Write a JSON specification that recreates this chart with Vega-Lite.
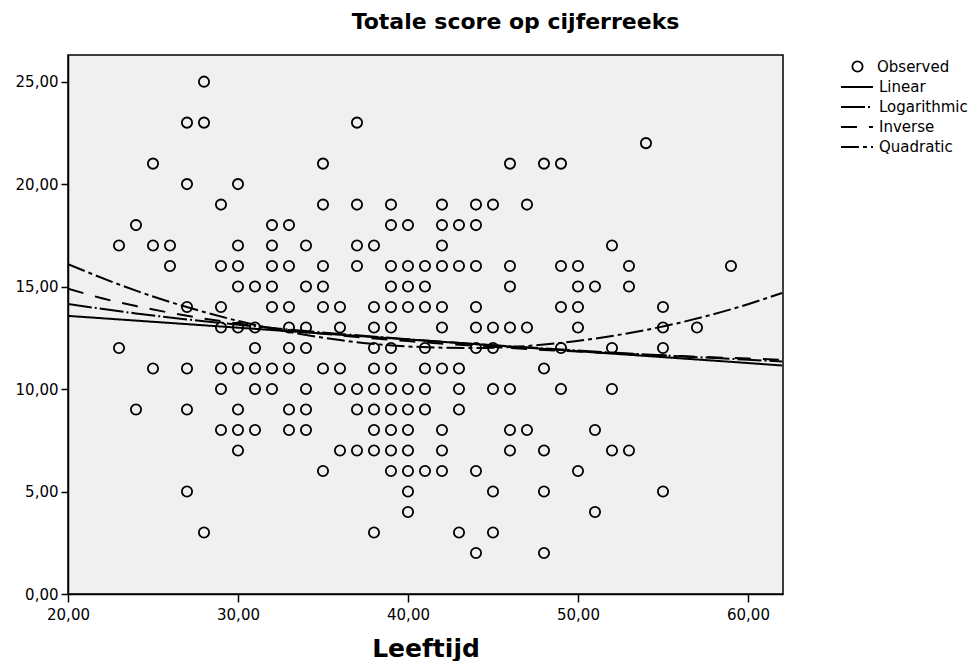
{
  "$schema": "https://vega.github.io/schema/vega-lite/v6.json",
  "width": 715,
  "height": 539,
  "autosize": {"type": "none"},
  "padding": {"left": 68, "top": 55, "right": 189, "bottom": 67},
  "background": "white",
  "title": {"text": "Totale score op cijferreeks", "font": "DejaVu Sans", "fontSize": 22, "fontWeight": "bold", "color": "black", "anchor": "middle", "dx": 90, "offset": 21},
  "config": {
    "view": {"fill": "#F0F0F0", "stroke": "black", "strokeWidth": 1.5},
    "axis": {"grid": false, "domainColor": "black", "domainWidth": 1.5, "tickColor": "black", "tickWidth": 1.5, "labelColor": "black", "labelFont": "DejaVu Sans", "labelFontSize": 15, "labelFlush": false, "labelOverlap": false}
  },
  "datasets": {
    "obs": [
      {"age":23,"score":17},{"age":23,"score":12},
      {"age":24,"score":18},{"age":24,"score":9},
      {"age":25,"score":21},{"age":25,"score":17},{"age":25,"score":11},
      {"age":26,"score":17},{"age":26,"score":16},
      {"age":27,"score":23},{"age":27,"score":20},{"age":27,"score":14},{"age":27,"score":11},{"age":27,"score":9},{"age":27,"score":5},
      {"age":28,"score":25},{"age":28,"score":23},{"age":28,"score":3},
      {"age":29,"score":19},{"age":29,"score":16},{"age":29,"score":14},{"age":29,"score":13},{"age":29,"score":11},{"age":29,"score":10},{"age":29,"score":8},
      {"age":30,"score":20},{"age":30,"score":17},{"age":30,"score":16},{"age":30,"score":15},{"age":30,"score":13},{"age":30,"score":11},{"age":30,"score":9},{"age":30,"score":8},{"age":30,"score":7},
      {"age":31,"score":15},{"age":31,"score":13},{"age":31,"score":12},{"age":31,"score":11},{"age":31,"score":10},{"age":31,"score":8},
      {"age":32,"score":18},{"age":32,"score":17},{"age":32,"score":16},{"age":32,"score":15},{"age":32,"score":14},{"age":32,"score":11},{"age":32,"score":10},
      {"age":33,"score":18},{"age":33,"score":16},{"age":33,"score":14},{"age":33,"score":13},{"age":33,"score":12},{"age":33,"score":11},{"age":33,"score":9},{"age":33,"score":8},
      {"age":34,"score":17},{"age":34,"score":15},{"age":34,"score":13},{"age":34,"score":12},{"age":34,"score":10},{"age":34,"score":9},{"age":34,"score":8},
      {"age":35,"score":21},{"age":35,"score":19},{"age":35,"score":16},{"age":35,"score":15},{"age":35,"score":14},{"age":35,"score":11},{"age":35,"score":6},
      {"age":36,"score":14},{"age":36,"score":13},{"age":36,"score":11},{"age":36,"score":10},{"age":36,"score":7},
      {"age":37,"score":23},{"age":37,"score":19},{"age":37,"score":17},{"age":37,"score":16},{"age":37,"score":10},{"age":37,"score":9},{"age":37,"score":7},
      {"age":38,"score":17},{"age":38,"score":14},{"age":38,"score":13},{"age":38,"score":12},{"age":38,"score":11},{"age":38,"score":10},{"age":38,"score":9},{"age":38,"score":8},{"age":38,"score":7},{"age":38,"score":3},
      {"age":39,"score":19},{"age":39,"score":18},{"age":39,"score":16},{"age":39,"score":15},{"age":39,"score":14},{"age":39,"score":13},{"age":39,"score":12},{"age":39,"score":11},{"age":39,"score":10},{"age":39,"score":9},{"age":39,"score":8},{"age":39,"score":7},{"age":39,"score":6},
      {"age":40,"score":18},{"age":40,"score":16},{"age":40,"score":15},{"age":40,"score":14},{"age":40,"score":10},{"age":40,"score":9},{"age":40,"score":8},{"age":40,"score":7},{"age":40,"score":6},{"age":40,"score":5},{"age":40,"score":4},
      {"age":41,"score":16},{"age":41,"score":15},{"age":41,"score":14},{"age":41,"score":12},{"age":41,"score":11},{"age":41,"score":10},{"age":41,"score":9},{"age":41,"score":6},
      {"age":42,"score":19},{"age":42,"score":18},{"age":42,"score":17},{"age":42,"score":16},{"age":42,"score":14},{"age":42,"score":13},{"age":42,"score":11},{"age":42,"score":8},{"age":42,"score":7},{"age":42,"score":6},
      {"age":43,"score":18},{"age":43,"score":16},{"age":43,"score":11},{"age":43,"score":10},{"age":43,"score":9},{"age":43,"score":3},
      {"age":44,"score":19},{"age":44,"score":18},{"age":44,"score":16},{"age":44,"score":14},{"age":44,"score":13},{"age":44,"score":12},{"age":44,"score":6},{"age":44,"score":2},
      {"age":45,"score":19},{"age":45,"score":13},{"age":45,"score":12},{"age":45,"score":10},{"age":45,"score":5},{"age":45,"score":3},
      {"age":46,"score":21},{"age":46,"score":16},{"age":46,"score":15},{"age":46,"score":13},{"age":46,"score":10},{"age":46,"score":8},{"age":46,"score":7},
      {"age":47,"score":19},{"age":47,"score":13},{"age":47,"score":8},
      {"age":48,"score":21},{"age":48,"score":11},{"age":48,"score":7},{"age":48,"score":5},{"age":48,"score":2},
      {"age":49,"score":21},{"age":49,"score":16},{"age":49,"score":14},{"age":49,"score":12},{"age":49,"score":10},
      {"age":50,"score":16},{"age":50,"score":15},{"age":50,"score":14},{"age":50,"score":13},{"age":50,"score":6},
      {"age":51,"score":15},{"age":51,"score":8},{"age":51,"score":4},
      {"age":52,"score":17},{"age":52,"score":12},{"age":52,"score":10},{"age":52,"score":7},
      {"age":53,"score":16},{"age":53,"score":15},{"age":53,"score":7},
      {"age":54,"score":22},
      {"age":55,"score":14},{"age":55,"score":13},{"age":55,"score":12},{"age":55,"score":5},
      {"age":57,"score":13},
      {"age":59,"score":16}
    ],
    "fits": [
      {"model":"Linear","age":20,"score":13.57},{"model":"Linear","age":24,"score":13.34},{"model":"Linear","age":28,"score":13.11},{"model":"Linear","age":32,"score":12.88},{"model":"Linear","age":36,"score":12.65},{"model":"Linear","age":40,"score":12.42},{"model":"Linear","age":44,"score":12.19},{"model":"Linear","age":48,"score":11.96},{"model":"Linear","age":52,"score":11.73},{"model":"Linear","age":56,"score":11.50},{"model":"Linear","age":60,"score":11.27},{"model":"Linear","age":62,"score":11.15},
      {"model":"Logarithmic","age":20,"score":14.15},{"model":"Logarithmic","age":24,"score":13.69},{"model":"Logarithmic","age":28,"score":13.31},{"model":"Logarithmic","age":32,"score":12.98},{"model":"Logarithmic","age":36,"score":12.69},{"model":"Logarithmic","age":40,"score":12.43},{"model":"Logarithmic","age":44,"score":12.19},{"model":"Logarithmic","age":48,"score":11.98},{"model":"Logarithmic","age":52,"score":11.78},{"model":"Logarithmic","age":56,"score":11.60},{"model":"Logarithmic","age":60,"score":11.43},{"model":"Logarithmic","age":62,"score":11.35},
      {"model":"Inverse","age":20,"score":14.90},{"model":"Inverse","age":22,"score":14.43},{"model":"Inverse","age":24,"score":14.05},{"model":"Inverse","age":28,"score":13.44},{"model":"Inverse","age":32,"score":12.98},{"model":"Inverse","age":36,"score":12.62},{"model":"Inverse","age":40,"score":12.34},{"model":"Inverse","age":44,"score":12.11},{"model":"Inverse","age":48,"score":11.91},{"model":"Inverse","age":52,"score":11.75},{"model":"Inverse","age":56,"score":11.61},{"model":"Inverse","age":60,"score":11.49},{"model":"Inverse","age":62,"score":11.43},
      {"model":"Quadratic","age":20,"score":16.09},{"model":"Quadratic","age":24,"score":14.80},{"model":"Quadratic","age":28,"score":13.76},{"model":"Quadratic","age":32,"score":12.95},{"model":"Quadratic","age":36,"score":12.39},{"model":"Quadratic","age":40,"score":12.08},{"model":"Quadratic","age":44,"score":12.00},{"model":"Quadratic","age":48,"score":12.17},{"model":"Quadratic","age":52,"score":12.59},{"model":"Quadratic","age":56,"score":13.24},{"model":"Quadratic","age":60,"score":14.14},{"model":"Quadratic","age":62,"score":14.69}
    ]
  },
  "layer": [
    {
      "data": {"name": "obs"},
      "mark": {"type": "point", "shape": "circle", "filled": false, "color": "black", "strokeWidth": 1.8, "size": 105, "opacity": 1},
      "encoding": {
        "x": {"field": "age", "type": "quantitative", "scale": {"domain": [20, 62.06], "nice": false, "zero": false},
              "axis": {"values": [20, 30, 40, 50, 60], "labelExpr": "replace(format(datum.value, '.2f'), '.', ',')", "tickSize": 8, "labelPadding": 5, "title": "Leeftijd", "titleFont": "DejaVu Sans", "titleFontSize": 25, "titleFontWeight": "bold", "titleColor": "black", "titlePadding": 14}},
        "y": {"field": "score", "type": "quantitative", "scale": {"domain": [0, 26.3], "nice": false, "zero": false},
              "axis": {"values": [0, 5, 10, 15, 20, 25], "labelExpr": "replace(format(datum.value, '.2f'), '.', ',')", "tickSize": 7, "labelPadding": 3, "title": null}},
        "shape": {"datum": "Observed", "type": "nominal", "scale": {"domain": ["Observed"], "range": ["circle"]},
                  "legend": {"title": null, "orient": "none", "legendX": 782, "legendY": 4, "padding": 0, "labelFont": "DejaVu Sans", "labelFontSize": 15, "labelColor": "black", "symbolStrokeColor": "black", "symbolFillColor": "transparent", "symbolSize": 105, "symbolStrokeWidth": 1.8, "labelOffset": 12}}
      }
    },
    {
      "data": {"name": "fits"},
      "mark": {"type": "line", "color": "black", "strokeWidth": 2, "interpolate": "monotone", "clip": true},
      "encoding": {
        "x": {"field": "age", "type": "quantitative"},
        "y": {"field": "score", "type": "quantitative"},
        "strokeDash": {"field": "model", "type": "nominal", "sort": null,
                       "scale": {"domain": ["Linear", "Logarithmic", "Inverse", "Quadratic"], "range": [[1, 0], [24, 3, 2, 3], [16, 12], [18, 4, 4, 4]]},
                       "legend": {"title": null, "orient": "none", "legendX": 772, "legendY": 22, "padding": 0, "symbolType": "stroke", "symbolSize": 1024, "symbolStrokeWidth": 2, "symbolStrokeColor": "black", "labelFont": "DejaVu Sans", "labelFontSize": 15, "labelColor": "black", "labelOffset": 5, "rowPadding": 0, "clipHeight": 20}}
      }
    }
  ]
}
